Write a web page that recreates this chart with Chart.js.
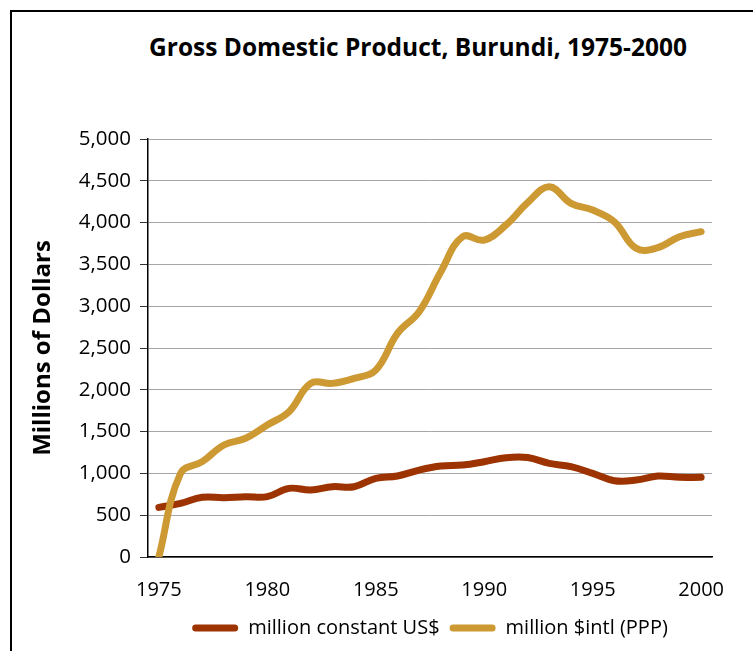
<!DOCTYPE html>
<html>
<head>
<meta charset="utf-8">
<script src="https://cdn.jsdelivr.net/npm/chart.js@4.4.0/dist/chart.umd.min.js"></script>
<style>
  html, body { margin: 0; padding: 0; background: #fff; overflow: hidden; }
  #wrap { position: relative; width: 753px; height: 651px; }
  #frame { position: absolute; left: 10px; top: 10px; width: 900px; height: 800px; border: 2px solid #000; box-sizing: border-box; }
  #title { position: absolute; left: 0; width: 836px; top: 30px; text-align: center;
           font: bold 24.5px "Open Sans", sans-serif; color: #000; line-height: 34px; }
  canvas { position: absolute; left: 0; top: 0; }
</style>
</head>
<body>
<div id="wrap">
  <div id="frame"></div>
  <div id="title">Gross Domestic Product, Burundi, 1975-2000</div>
  <canvas id="c" width="753" height="651"></canvas>
</div>
<script>
const years = [1975,1976,1977,1978,1979,1980,1981,1982,1983,1984,1985,1986,1987,1988,1989,1990,1991,1992,1993,1994,1995,1996,1997,1998,1999,2000];
const constantUSD = [594,642,714,710,722,722,821,801,841,841,941,969,1040,1088,1100,1140,1188,1190,1120,1080,1001,913,920,969,953,953];
const intlPPP = [0,1000,1140,1340,1420,1579,1738,2077,2077,2137,2236,2675,2934,3412,3831,3791,3971,4238,4429,4230,4150,4010,3692,3700,3831,3891];
const yTicks = [0,500,1000,1500,2000,2500,3000,3500,4000,4500,5000];
const seriesNames = ['million constant US$', 'million $intl (PPP)'];
const colors = ['#9C3300', '#CC9933'];

const font = '"Open Sans", sans-serif';

new Chart(document.getElementById('c'), {
  type: 'line',
  data: {
    labels: years.map(String),
    datasets: [
      { label: seriesNames[1], data: intlPPP, borderColor: colors[1], backgroundColor: colors[1],
        borderWidth: 7, tension: 0.4, pointRadius: 0, borderCapStyle: 'round', borderJoinStyle: 'round' },
      { label: seriesNames[0], data: constantUSD, borderColor: colors[0], backgroundColor: colors[0],
        borderWidth: 7, tension: 0.4, pointRadius: 0, borderCapStyle: 'round', borderJoinStyle: 'round' }
    ]
  },
  options: {
    responsive: false,
    animation: false,
    layout: { padding: { left: 0, right: 41, top: 139, bottom: 3 } },
    plugins: {
      legend: {
        position: 'bottom',
        fullSize: false,
        reverse: true,
        labels: {
          boxWidth: 46, boxHeight: 7, padding: 10,
          useBorderRadius: true, borderRadius: 3.5,
          color: '#000',
          font: { family: font, size: 20 },
          generateLabels(chart) {
            const items = Chart.defaults.plugins.legend.labels.generateLabels(chart);
            items.forEach(it => { it.lineWidth = 0; it.strokeStyle = it.fillStyle; });
            return items;
          }
        }
      },
      tooltip: { enabled: false }
    },
    scales: {
      x: {
        type: 'category',
        offset: true,
        grid: { display: false, drawTicks: false },
        border: { display: true, color: '#000', width: 1.5 },
        ticks: {
          autoSkip: false, maxRotation: 0, padding: 21,
          color: '#000', font: { family: font, size: 20 },
          callback(v, i) { const y = years[i]; return y % 5 === 0 ? String(y) : ''; }
        },
        afterFit(s) { s.height = 51; }
      },
      y: {
        min: 0, max: 5000,
        afterBuildTicks(s) { s.ticks = yTicks.map(v => ({ value: v })); },
        grid: { color: '#a6a6a6', lineWidth: 1, tickLength: 8, tickColor: '#333' },
        border: { display: true, color: '#000', width: 1.5 },
        ticks: {
          padding: 9, color: '#000', font: { family: font, size: 20.5 },
          callback(v) { return v.toLocaleString('en-US'); }
        },
        title: {
          display: true, text: 'Millions of Dollars', color: '#000',
          font: { family: font, size: 24, weight: 'bold' },
          padding: { top: 29, bottom: 0 }
        },
        afterFit(s) { s.width = 148; }
      }
    }
  }
});
</script>
</body>
</html>
